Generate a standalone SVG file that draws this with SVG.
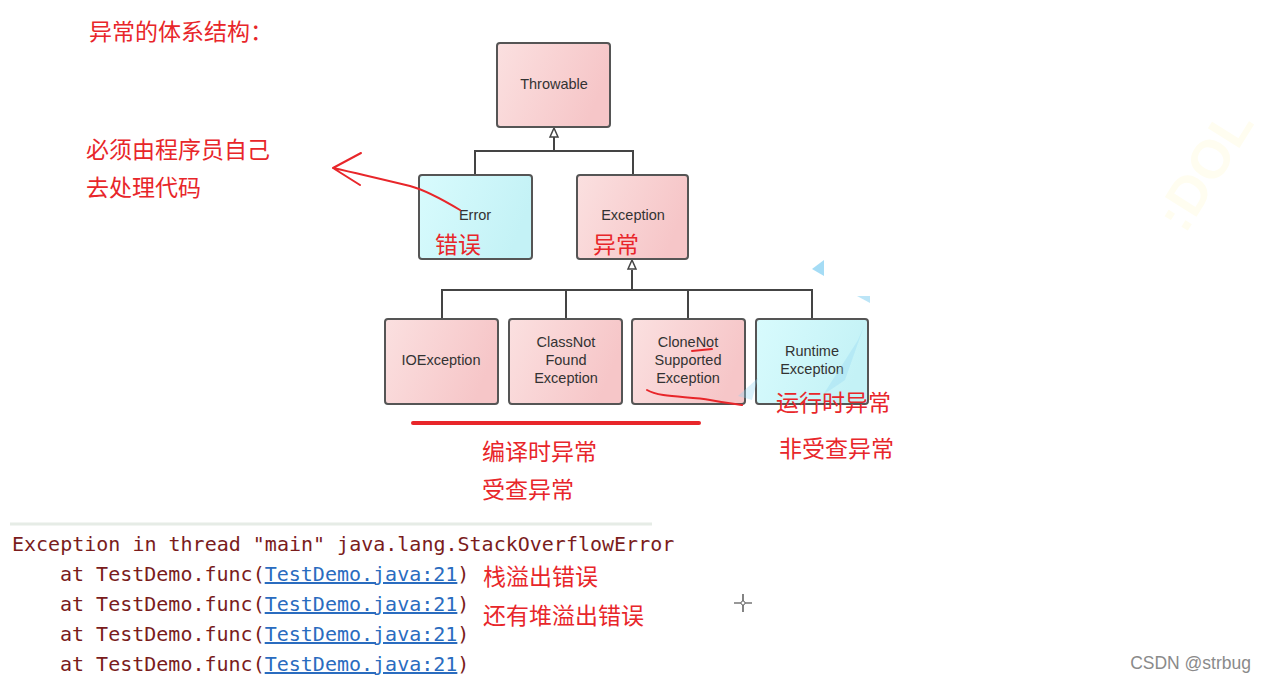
<svg xmlns="http://www.w3.org/2000/svg" width="1266" height="682" viewBox="0 0 1266 682">
<defs>
<linearGradient id="pink" x1="0" y1="0" x2="1" y2="0.3"><stop offset="0" stop-color="#fbe0e0"/><stop offset="1" stop-color="#f6c6c8"/></linearGradient>
<linearGradient id="cyan" x1="0" y1="0" x2="1" y2="0.3"><stop offset="0" stop-color="#d8fbfd"/><stop offset="1" stop-color="#c4f2f6"/></linearGradient>
<style>
.box{stroke:#555;stroke-width:2}
.p{fill:url(#pink)}
.c{fill:url(#cyan)}
.lbl{font-family:"Liberation Sans",Arial,sans-serif;font-size:14.5px;fill:#333;text-anchor:middle}
.conn{fill:none;stroke:#444;stroke-width:2}
.tri{fill:#fff;stroke:#444;stroke-width:1.5}
.red{font-family:"Noto Sans CJK SC",sans-serif;font-size:23px;fill:#e8262a}
.ink{fill:none;stroke:#e8262a;stroke-width:2;stroke-linecap:round;stroke-linejoin:round}
.code{font-family:"DejaVu Sans Mono","Liberation Mono",monospace;font-size:20px;fill:#7a1c1c}
.link{fill:#2a6cbf;text-decoration:underline}
</style>
</defs>
<rect width="1266" height="682" fill="#fff"/>

<!-- faint decorations -->
<text x="1185" y="235" transform="rotate(-58 1185 235)" font-family="Liberation Sans,sans-serif" font-weight="bold" font-size="54" fill="#fffdf0">:DOL</text>

<!-- connectors -->
<g id="connectors">
<path class="conn" d="M475 174V151H633V174M554 151V137"/>
<polygon class="tri" points="554,128 550,137 558,137"/>
<path class="conn" d="M442 319V290H812V319M566 290V319M688 290V319M632 290V270"/>
<polygon class="tri" points="632,260 628,269 636,269"/>
</g>

<g id="throwable"><rect class="box p" x="497" y="43" width="113" height="84" rx="3"/><text class="lbl" x="554" y="89">Throwable</text></g>
<g id="error"><rect class="box c" x="419" y="175" width="113" height="84" rx="3"/><text class="lbl" x="475" y="220">Error</text></g>
<g id="exception"><rect class="box p" x="577" y="175" width="111" height="84" rx="3"/><text class="lbl" x="633" y="220">Exception</text></g>
<g id="ioexception"><rect class="box p" x="385" y="319" width="113" height="85" rx="3"/><text class="lbl" x="441" y="365">IOException</text></g>
<g id="classnotfound"><rect class="box p" x="509" y="319" width="113" height="85" rx="3"/><text class="lbl" x="566" y="347">ClassNot</text><text class="lbl" x="566" y="365">Found</text><text class="lbl" x="566" y="383">Exception</text></g>
<g id="clonenotsupported"><rect class="box p" x="632" y="319" width="113" height="85" rx="3"/><text class="lbl" x="688" y="347">CloneNot</text><text class="lbl" x="688" y="365">Supported</text><text class="lbl" x="688" y="383">Exception</text></g>
<g id="runtime"><rect class="box c" x="756" y="319" width="112" height="85" rx="3"/><text class="lbl" x="812" y="356">Runtime</text><text class="lbl" x="812" y="374">Exception</text></g>

<!-- blue artifacts -->
<g fill="#8fd3f2">
<polygon points="812,269 824,260 824,276" opacity="0.8"/>
<polygon points="857,296 870,296 870,303" opacity="0.6"/>
<polygon points="738,396 758,378 752,400" opacity="0.35"/>
<polygon points="823,395 858,340 864,326 845,380" opacity="0.3"/>
</g>

<!-- red annotations -->
<text class="red" x="89" y="40" font-size="22">异常的体系结构：</text>
<text class="red" x="86" y="158">必须由程序员自己</text>
<text class="red" x="86" y="196">去处理代码</text>
<path class="ink" d="M460 210C440 198 425 190 410 186C385 180 360 174 333 168M333 168L361 153M333 168L360 185"/>
<text class="red" x="435" y="253">错误</text>
<text class="red" x="593" y="253">异常</text>
<path class="ink" d="M692 351L712 349"/>
<path class="ink" d="M647 390C660 398 690 396 710 400C725 403 735 404 742 405"/>
<path d="M413 423H699" stroke="#e8262a" stroke-width="4" stroke-linecap="round"/>
<text class="red" x="776" y="411">运行时异常</text>
<text class="red" x="779" y="457">非受查异常</text>
<text class="red" x="482" y="460">编译时异常</text>
<text class="red" x="482" y="498">受查异常</text>

<!-- console -->
<path d="M10 524H652" stroke="#e6ece6" stroke-width="3"/>
<text class="code" x="12" y="551">Exception in thread "main" java.lang.StackOverflowError</text>
<text class="code" x="60" y="581">at TestDemo.func(<tspan class="link">TestDemo.java:21</tspan>)</text>
<text class="code" x="60" y="611">at TestDemo.func(<tspan class="link">TestDemo.java:21</tspan>)</text>
<text class="code" x="60" y="641">at TestDemo.func(<tspan class="link">TestDemo.java:21</tspan>)</text>
<text class="code" x="60" y="671">at TestDemo.func(<tspan class="link">TestDemo.java:21</tspan>)</text>
<text class="red" x="483" y="585">栈溢出错误</text>
<text class="red" x="483" y="624">还有堆溢出错误</text>

<!-- cursor -->
<g stroke="#333" stroke-width="1.2"><path d="M743 594V612M734 603H752"/></g>
<circle cx="743" cy="603" r="2" fill="#fff" stroke="#555" stroke-width="0.8"/>

<text x="1251" y="669" text-anchor="end" font-family="Liberation Sans,sans-serif" font-size="17.5" fill="#8a8a8a">CSDN @strbug</text>
</svg>
